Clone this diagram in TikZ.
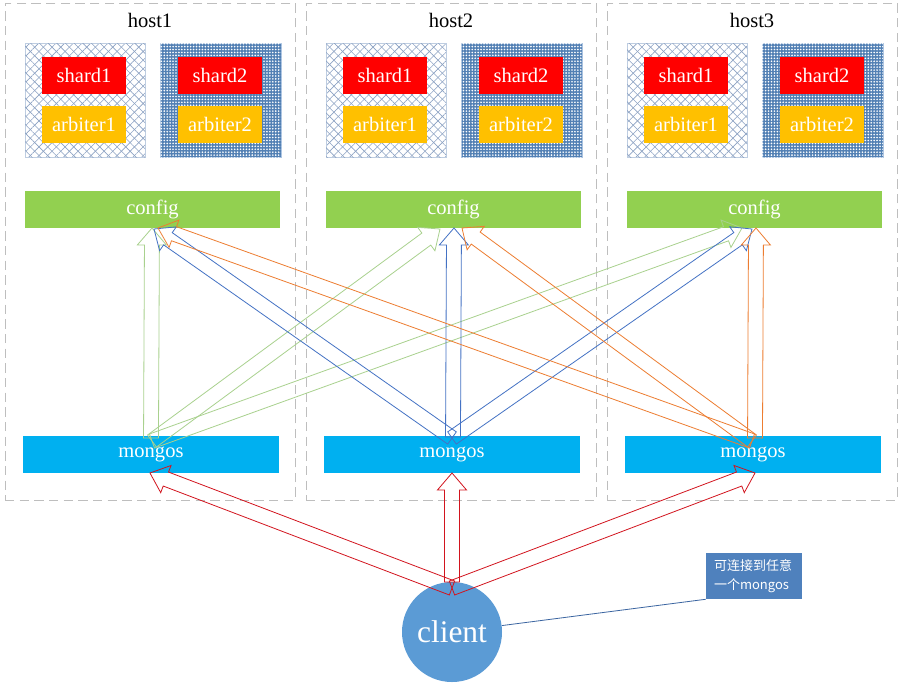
\documentclass[tikz,border=0pt]{standalone}
\usepackage{fontspec}
\setmainfont{Liberation Serif}
\newfontfamily\cjk{Noto Sans CJK SC}
\usetikzlibrary{calc,fit,patterns.meta}
\definecolor{hostgray}{RGB}{190,190,190}
\definecolor{shardred}{RGB}{255,0,0}
\definecolor{arbor}{RGB}{255,192,0}
\definecolor{cfggreen}{RGB}{146,208,80}
\definecolor{mgblue}{RGB}{0,176,240}
\definecolor{clientblue}{RGB}{91,155,213}
\definecolor{callblue}{RGB}{79,129,189}
\definecolor{xline}{RGB}{140,162,195}
\definecolor{xborder}{RGB}{190,205,225}
\definecolor{dotblue}{RGB}{82,128,180}
\definecolor{dborder}{RGB}{170,195,225}
\definecolor{agreen}{RGB}{169,209,142}
\definecolor{ablue}{RGB}{68,114,196}
\definecolor{aorange}{RGB}{237,125,49}
\definecolor{ared}{RGB}{210,20,30}
\definecolor{linkblue}{RGB}{58,100,160}
\newcommand\blockarr[3]{%
  \coordinate (tmpH) at ($(#3)!12.75pt!(#2)$);
  \draw[arr,#1] ($(#2)!5.6pt!90:(#3)$) -- ($(tmpH)!5.6pt!-90:(#2)$) -- ($(tmpH)!10.9pt!-90:(#2)$) -- (#3) -- ($(tmpH)!10.9pt!90:(#2)$) -- ($(tmpH)!5.6pt!90:(#2)$) -- ($(#2)!5.6pt!-90:(#3)$) -- cycle;
}
\begin{document}
\begin{tikzpicture}[x=0.75pt,y=-0.75pt,
  hostbox/.style={draw=hostgray, dash pattern=on 7pt off 4pt, line width=0.6pt, inner sep=0},
  title/.style={font=\fontsize{15.4pt}{18pt}\selectfont, text=black},
  lbl/.style 2 args={rectangle, inner sep=0, text=white, font=\fontsize{15.4pt}{18pt}\selectfont,
    minimum width=#1*0.75pt, minimum height=#2*0.75pt},
  xbox/.style={inner sep=0, draw=xborder, line width=0.5pt,
    preaction={pattern={Lines[angle=45,distance=4.6pt,line width=0.45pt]}, pattern color=xline},
    postaction={pattern={Lines[angle=-45,distance=4.6pt,line width=0.45pt]}, pattern color=xline}},
  dbox/.style={inner sep=0, fill=dotblue, draw=dborder, line width=0.5pt,
    postaction={pattern={Dots[distance=2.2pt,radius=0.68pt]}, pattern color=white}},
  arr/.style={line width=0.6pt, line join=miter},
]
\useasboundingbox (0,0) rectangle (905,689);
\fill[white] (0,0) rectangle (905,689);

\foreach \i/\dx in {1/0,2/301,3/602}{
  \node[hostbox, fit={(5+\dx,3) (295+\dx,500)}] (host\i) {};
  \node[title] (title\i) at (150+\dx,20) {host\i};
  \node[xbox, fit={(25+\dx,43) (145+\dx,157)}] (pa\i) {};
  \node[dbox, fit={(160+\dx,43) (281+\dx,157)}] (pb\i) {};
  \node[lbl={84}{37}, fill=shardred] (sa\i) at (84+\dx,75.5) {shard1};
  \node[lbl={84}{37}, fill=arbor] (aa\i) at (84+\dx,124.5) {arbiter1};
  \node[lbl={84}{37}, fill=shardred] (sb\i) at (220+\dx,75.5) {shard2};
  \node[lbl={84}{37}, fill=arbor] (ab\i) at (220+\dx,124.5) {arbiter2};
  \node[lbl={255}{37}, fill=cfggreen] (config\i) at (152.5+\dx,209.5) {config};
  \node[lbl={256}{37}, fill=mgblue] (mongos\i) at (151+\dx,454.5) {mongos};
}

\node[circle, fill=clientblue, minimum size=75pt, inner sep=0, text=white,
  font=\fontsize{23.6pt}{28pt}\selectfont] (client) at (452,632) {client};
\node[fill=callblue, minimum width=72pt, minimum height=34.5pt, inner sep=0,
  text width=60pt, align=left, text=white,
  font=\cjk\fontsize{9.75pt}{14.25pt}\selectfont] (note) at (754,576) {可连接到任意\\一个mongos};
\draw[linkblue, line width=0.6pt] (client) -- (note.south west);

% arrow anchor points
\coordinate (g0) at (152,441);
\coordinate (gv0) at (151,438);
\coordinate (b0) at (452,438);
\coordinate (bv0) at (453,437);
\coordinate (o0) at (752,441);
\coordinate (ov0) at (755,438);
\coordinate (c1g) at (152,228);
\coordinate (c1b) at (154,229);
\coordinate (c1o) at (158,228);
\coordinate (c2g) at (440,229);
\coordinate (c2b) at (454,228);
\coordinate (c2o) at (462,228);
\coordinate (c3g) at (742,228);
\coordinate (c3b) at (752,229);
\coordinate (c3o) at (756,228);
\coordinate (r0) at (452,588);
\coordinate (rv0) at (452,582);
\coordinate (m1r) at (150,473);
\coordinate (m2r) at (452,473);
\coordinate (m3r) at (755,473);

\blockarr{agreen}{gv0}{c1g}
\blockarr{agreen}{g0}{c2g}
\blockarr{agreen}{g0}{c3g}
\blockarr{ablue}{b0}{c1b}
\blockarr{ablue}{bv0}{c2b}
\blockarr{ablue}{b0}{c3b}
\blockarr{aorange}{o0}{c1o}
\blockarr{aorange}{o0}{c2o}
\blockarr{aorange}{ov0}{c3o}
\blockarr{ared}{r0}{m1r}
\blockarr{ared}{rv0}{m2r}
\blockarr{ared}{r0}{m3r}
\end{tikzpicture}
\end{document}
